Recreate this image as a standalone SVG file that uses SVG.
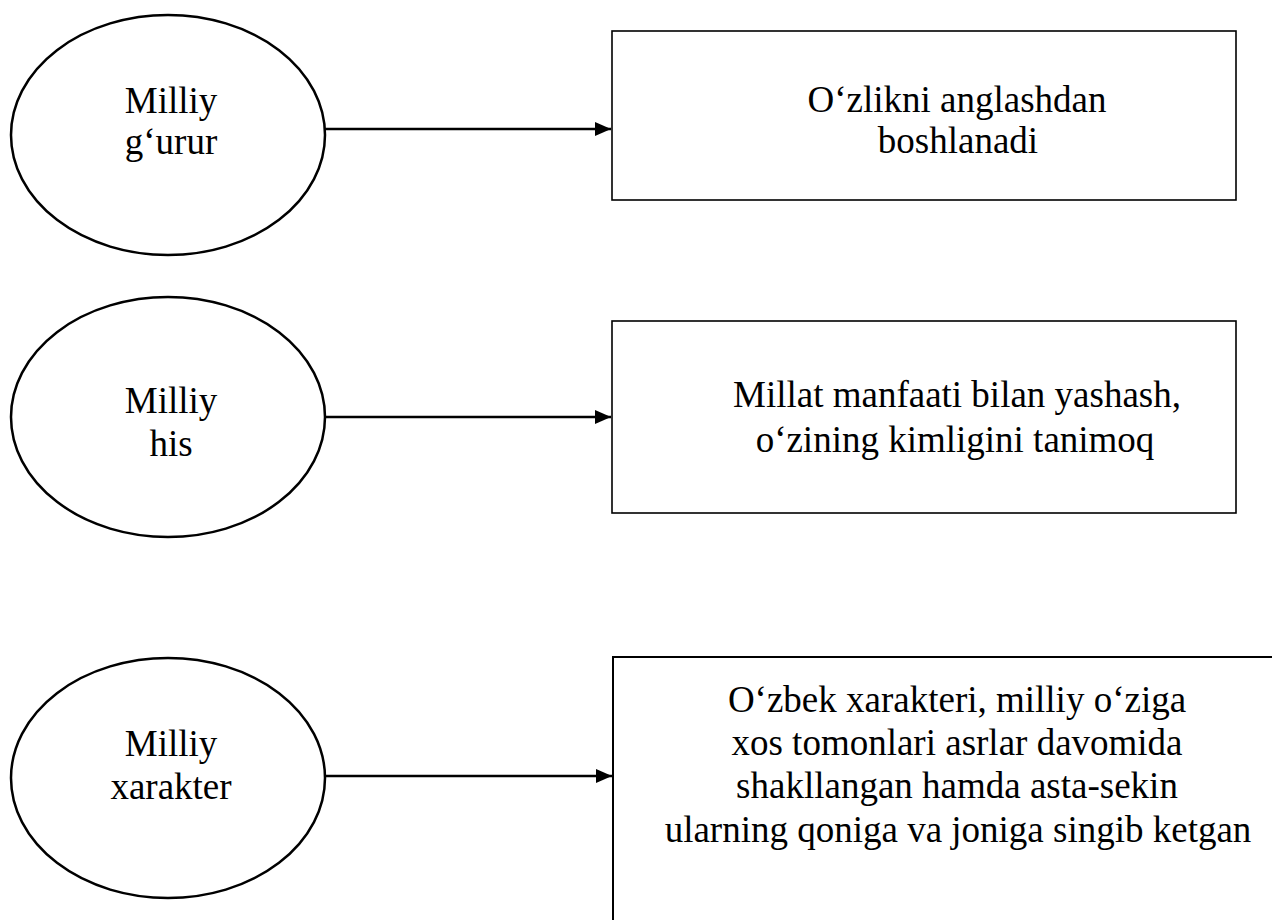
<svg xmlns="http://www.w3.org/2000/svg" width="1272" height="920" viewBox="0 0 1272 920">
<style>
.ell{fill:#fff;stroke:#000;stroke-width:2.5}
.box{fill:#fff;stroke:#000;stroke-width:1.6}
.t{font-family:"Liberation Serif","Times New Roman",serif;font-size:37px;fill:#000;text-anchor:middle}
.con{stroke:#000;stroke-width:2.5;fill:none}
</style>
<defs>
<marker id="ah" markerUnits="userSpaceOnUse" markerWidth="17" markerHeight="15" refX="16" refY="7" orient="auto">
<path d="M0,0 L16,7 L0,14 Z" fill="#000"/>
</marker>
</defs>
<rect width="1272" height="920" fill="#fff"/>
<g id="connectors">
<line class="con" x1="324" y1="129" x2="611" y2="129" marker-end="url(#ah)"/>
<line class="con" x1="324" y1="417" x2="611" y2="417" marker-end="url(#ah)"/>
<line class="con" x1="324" y1="776" x2="612" y2="776" marker-end="url(#ah)"/>
</g>
<g id="n1">
<ellipse class="ell" cx="168" cy="135" rx="157" ry="120"/>
<text class="t" x="171" y="113">Milliy</text>
<text class="t" x="171" y="154">g‘urur</text>
</g>
<g id="n2">
<ellipse class="ell" cx="168" cy="417" rx="157" ry="120"/>
<text class="t" x="171" y="413">Milliy</text>
<text class="t" x="171" y="456">his</text>
</g>
<g id="n3">
<ellipse class="ell" cx="168" cy="778" rx="157" ry="120"/>
<text class="t" x="171" y="756">Milliy</text>
<text class="t" x="171" y="799">xarakter</text>
</g>
<g id="b1">
<rect class="box" x="612" y="31" width="624" height="169"/>
<text class="t" x="957" y="112">O‘zlikni anglashdan</text>
<text class="t" x="958" y="153">boshlanadi</text>
</g>
<g id="b2">
<rect class="box" x="612" y="321" width="624" height="192"/>
<text class="t" x="957" y="407">Millat manfaati bilan yashash,</text>
<text class="t" x="955" y="452">o‘zining kimligini tanimoq</text>
</g>
<g id="b3">
<path class="box" style="stroke-width:2" d="M1275,657 L613,657 L613,925"/>
<text class="t" x="957" y="712">O‘zbek xarakteri, milliy o‘ziga</text>
<text class="t" x="957" y="755">xos tomonlari asrlar davomida</text>
<text class="t" x="957" y="798">shakllangan hamda asta-sekin</text>
<text class="t" x="958" y="842">ularning qoniga va joniga singib ketgan</text>
</g>
</svg>
